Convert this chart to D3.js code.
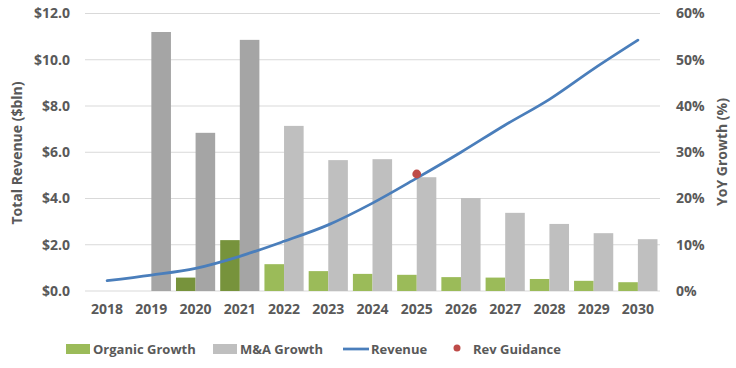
<!DOCTYPE html>
<html><head><meta charset="utf-8">
<script src="https://cdn.jsdelivr.net/npm/d3@7"></script>
<style>body{margin:0;background:#fff}svg{display:block}text{font-family:"Open Sans",Lato,sans-serif;font-weight:bold;fill:#595959}</style>
</head><body><svg id="c" width="736" height="368"></svg>
<script>
const years = ["2018","2019","2020","2021","2022","2023","2024","2025","2026","2027","2028","2029","2030"];
const organic = [0, 0, 2.9, 11.0, 5.8, 4.3, 3.7, 3.5, 3.0, 2.9, 2.6, 2.2, 1.9];
const mna = [0, 56.0, 34.2, 54.3, 35.7, 28.3, 28.5, 24.6, 20.1, 16.9, 14.5, 12.5, 11.2];
const revenue = [0.45, 0.69, 0.98, 1.5, 2.15, 2.86, 3.8, 4.88, 6.0, 7.18, 8.29, 9.61, 10.85];
const guidance = [{year:"2025", value:5.06}];
const leftTicks = [0,2,4,6,8,10,12];
const rightTicks = [0,10,20,30,40,50,60];
const historical = ["2019","2020","2021"];

const svg = d3.select("#c");
const L = 85, R = 660, T = 13.5, B = 291;
const x = d3.scaleBand().domain(years).range([L,R]).paddingInner(0.114).paddingOuter(0.057);
const yL = d3.scaleLinear().domain([0,12]).range([B,T]);
const yR = d3.scaleLinear().domain([0,60]).range([B,T]);

svg.append("g").selectAll("line").data(leftTicks).join("line")
  .attr("x1",L).attr("x2",R).attr("y1",d=>yL(d)).attr("y2",d=>yL(d))
  .attr("stroke","#d9d9d9").attr("stroke-width",1);

const bw = x.bandwidth()/2;
svg.append("g").selectAll("rect").data(years).join("rect")
  .attr("x",d=>x(d)).attr("width",bw)
  .attr("y",(d,i)=>yR(organic[i])).attr("height",(d,i)=>B-yR(organic[i]))
  .attr("fill",d=>historical.includes(d)?"#77933c":"#9bbb59");
svg.append("g").selectAll("rect").data(years).join("rect")
  .attr("x",d=>x(d)+bw).attr("width",bw)
  .attr("y",(d,i)=>yR(mna[i])).attr("height",(d,i)=>B-yR(mna[i]))
  .attr("fill",d=>historical.includes(d)?"#a5a5a5":"#bfbfbf");

const cx = d=>x(d)+x.bandwidth()/2;
svg.append("path").datum(years.map((y,i)=>[cx(y),yL(revenue[i])]))
  .attr("d",d3.line().curve(d3.curveCatmullRom.alpha(0.5)))
  .attr("fill","none").attr("stroke","#4a7ebb").attr("stroke-width",2.75).attr("stroke-linecap","round");

svg.append("g").selectAll("circle").data(guidance).join("circle")
  .attr("cx",d=>cx(d.year)).attr("cy",d=>yL(d.value)).attr("r",4.4).attr("fill","#be4b48");

const axL = svg.append("g").attr("transform",`translate(${L},0)`)
  .call(d3.axisLeft(yL).tickValues(leftTicks).tickFormat(d=>"$"+d.toFixed(1)).tickSize(0).tickPadding(15));
axL.select(".domain").remove();
axL.selectAll("text").style("font-size","14px");
const axR = svg.append("g").attr("transform",`translate(${R},0)`)
  .call(d3.axisRight(yR).tickValues(rightTicks).tickFormat(d=>d+"%").tickSize(0).tickPadding(16));
axR.select(".domain").remove();
axR.selectAll("text").style("font-size","14px");
const axB = svg.append("g").attr("transform",`translate(0,${B})`)
  .call(d3.axisBottom(x).tickSize(0).tickPadding(13));
axB.select(".domain").remove();
axB.selectAll("text").style("font-size","14px");

svg.append("text").attr("transform","translate(17,153) rotate(-90)").attr("text-anchor","middle").attr("dy","0.35em")
  .style("font-size","14px").text("Total Revenue ($bln)");
svg.append("text").attr("transform","translate(722,152) rotate(-90)").attr("text-anchor","middle").attr("dy","0.35em")
  .style("font-size","14px").text("YoY Growth (%)");

const lg = svg.append("g").attr("transform","translate(0,349)");
const items = [
  {label:"Organic Growth", type:"rect", color:"#9bbb59", x:66},
  {label:"M&A Growth", type:"rect", color:"#bfbfbf", x:213},
  {label:"Revenue", type:"line", color:"#4a7ebb", x:343},
  {label:"Rev Guidance", type:"dot", color:"#be4b48", x:450}
];
items.forEach(it=>{
  if(it.type==="rect") lg.append("rect").attr("x",it.x).attr("y",-5).attr("width",24).attr("height",10).attr("fill",it.color);
  if(it.type==="line") lg.append("line").attr("x1",it.x).attr("x2",it.x+26).attr("y1",0).attr("y2",0).attr("stroke",it.color).attr("stroke-width",2.75);
  if(it.type==="dot") lg.append("circle").attr("cx",it.x+7).attr("cy",-1).attr("r",3.5).attr("fill",it.color);
  lg.append("text").attr("x",it.type==="dot"?it.x+23:it.x+(it.type==="line"?28:27)).attr("y",0).attr("dy","0.35em")
    .style("font-size","13px").text(it.label);
});
</script></body></html>
